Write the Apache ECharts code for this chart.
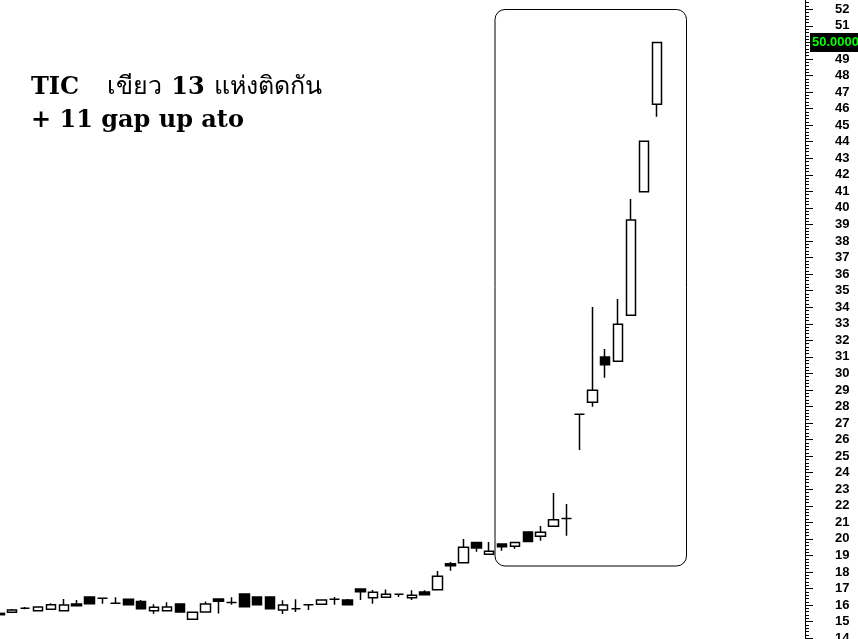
<!DOCTYPE html>
<html>
<head>
<meta charset="utf-8">
<script src="https://cdn.jsdelivr.net/npm/echarts@6/dist/echarts.min.js"></script>
<style>
  html, body { margin: 0; padding: 0; background: #fff; }
  #main { width: 858px; height: 639px; }
</style>
</head>
<body>
<div id="main"></div>
<script>
// OHLC, oldest first (first candle is cut by the left edge)
const opens  = [15.50, 15.57, 15.81, 15.66, 15.75, 15.66, 16.07, 16.49, 16.41, 16.11,
                16.35, 16.21, 15.66, 15.66, 16.07, 15.14, 15.58, 16.37, 16.15, 16.67,
                16.49, 16.49, 15.70, 15.78, 16.02, 16.05, 16.35, 16.31, 16.97, 16.45,
                16.47, 16.65, 16.45, 16.79, 16.93, 18.50, 18.56, 19.79, 19.07, 19.69,
                19.55, 20.42, 20.16, 20.76, 21.24, 27.53, 28.25, 30.99, 30.73, 33.51,
                40.98, 46.26];
const closes = [15.42, 15.70, 15.81, 15.89, 16.02, 16.01, 15.96, 16.08, 16.41, 16.11,
                16.02, 15.78, 15.87, 15.89, 15.58, 15.57, 16.07, 16.23, 16.15, 15.90,
                16.02, 15.78, 16.01, 15.78, 16.02, 16.31, 16.35, 16.02, 16.81, 16.77,
                16.65, 16.65, 16.59, 16.63, 17.74, 18.38, 19.49, 19.45, 19.25, 19.53,
                19.79, 19.85, 20.40, 21.16, 21.24, 27.53, 28.98, 30.53, 32.97, 39.27,
                44.02, 50.00];
const lows   = [15.42, 15.57, 15.75, 15.66, 15.75, 15.66, 15.96, 16.08, 16.08, 16.11,
                16.02, 15.78, 15.48, 15.66, 15.58, 15.14, 15.58, 15.50, 16.02, 15.90,
                16.02, 15.78, 15.46, 15.58, 15.70, 16.05, 16.02, 16.02, 16.31, 16.08,
                16.47, 16.49, 16.31, 16.63, 16.93, 18.08, 18.56, 19.23, 19.07, 19.29,
                19.41, 19.85, 19.89, 20.76, 20.19, 25.37, 27.99, 29.74, 30.73, 33.51,
                40.98, 45.51];
const highs  = [15.50, 15.76, 15.89, 15.89, 16.11, 16.37, 16.31, 16.49, 16.41, 16.47,
                16.35, 16.31, 16.05, 16.17, 16.07, 15.57, 16.21, 16.37, 16.47, 16.67,
                16.49, 16.49, 16.29, 16.35, 16.02, 16.31, 16.49, 16.37, 16.97, 16.91,
                16.95, 16.65, 16.89, 16.89, 18.06, 18.60, 19.99, 19.79, 19.81, 19.69,
                19.79, 20.42, 20.78, 22.77, 22.11, 27.53, 34.01, 31.47, 34.50, 40.54,
                44.02, 50.00];

// chart keeps empty room on the right, 63 slots in all
const slotCount = 63;
const slots = Array.from({ length: slotCount }, (_, i) => String(i + 1));

const lastPrice = closes[closes.length - 1];
// note text: latin parts heavy serif, thai parts plain
const noteLine1 = '{lat|TIC}{gapA|}{th|เขียว}{gapB|}{lat|13}{gapB|}{th|แห่งติดกัน}';
const noteLine2 = '{lat|+ 11 gap up ato}';

const candles = opens.map((o, i) => [o, closes[i], lows[i], highs[i]]);

const noteRich = {
  lat: { font: 'bold 24px "DejaVu Serif", serif', fill: '#000' },
  th: { font: '25px "DejaVu Sans", sans-serif', fill: '#000' },
  gapA: { width: 28 },
  gapB: { width: 9 }
};

const chart = echarts.init(document.getElementById('main'));

chart.setOption({
  animation: false,
  backgroundColor: '#ffffff',
  grid: {
    left: -7.1,
    right: 53,
    top: -7.25,
    bottom: 0.8,
    containLabel: false,
    outerBoundsMode: 'none'
  },
  xAxis: {
    type: 'category',
    data: slots,
    boundaryGap: true,
    axisLine: { show: false },
    axisTick: { show: false },
    axisLabel: { show: false },
    splitLine: { show: false }
  },
  yAxis: {
    type: 'value',
    position: 'right',
    min: 14,
    max: 53,
    interval: 1,
    axisLine: { show: true, lineStyle: { color: '#000', width: 1 } },
    axisTick: { show: true, length: 8, lineStyle: { color: '#000' } },
    minorTick: { show: true, splitNumber: 5, length: 4, lineStyle: { color: '#000' } },
    axisLabel: {
      margin: 30,
      color: '#000',
      fontFamily: 'Liberation Sans',
      fontWeight: 'bold',
      fontSize: 13
    },
    splitLine: { show: false }
  },
  series: [{
    type: 'candlestick',
    data: candles,
    barWidth: 10,
    itemStyle: {
      color: '#ffffff',
      color0: '#000000',
      borderColor: '#000000',
      borderColor0: '#000000',
      borderWidth: 1.5
    },
    markLine: {
      silent: true,
      symbol: 'none',
      lineStyle: { width: 0, color: 'rgba(0,0,0,0)' },
      label: {
        show: true,
        position: 'end',
        distance: 5,
        formatter: () => lastPrice.toFixed(4),
        color: '#00ff00',
        backgroundColor: '#000000',
        fontFamily: 'Liberation Sans',
        fontWeight: 'bold',
        fontSize: 13,
        padding: [3, 2, 3, 2]
      },
      data: [{ yAxis: lastPrice }]
    }
  }],
  graphic: [
    {
      type: 'rect',
      shape: { x: 495, y: 9.5, width: 191.5, height: 556.5, r: 10 },
      style: { fill: 'none', stroke: '#000', lineWidth: 1 },
      silent: true
    },
    {
      type: 'text',
      left: 31,
      top: 75,
      style: {
        text: noteLine1,
        rich: noteRich,
        fill: '#000'
      }
    },
    {
      type: 'text',
      left: 31,
      top: 109,
      style: {
        text: noteLine2,
        rich: noteRich,
        fill: '#000'
      }
    }
  ]
});
</script>
</body>
</html>
